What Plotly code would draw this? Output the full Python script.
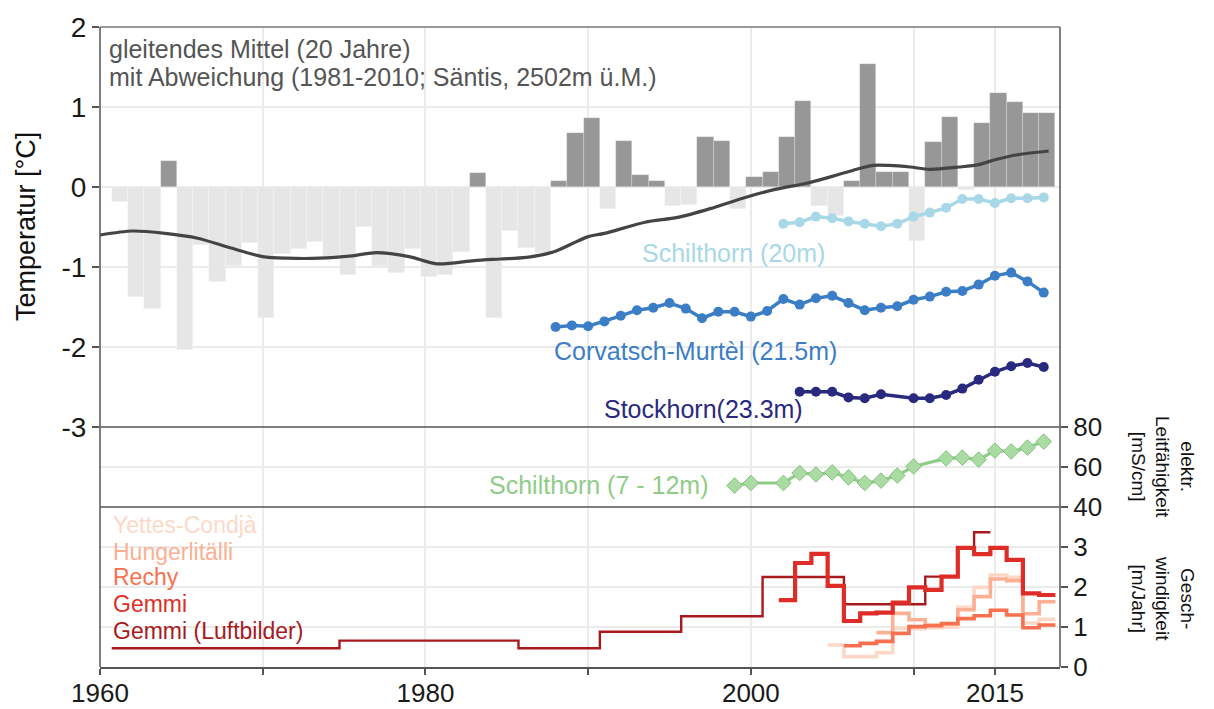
import plotly.graph_objects as go

# ---------------- data ----------------
# Annual temperature anomaly (Säntis), hydrological years
BAR_YEARS = list(range(1961, 2019))
BAR_VALUES = [-0.19, -1.38, -1.52, 0.32, -2.04, -0.72, -1.19, -0.99, -0.70, -1.64,
              -0.84, -0.78, -0.69, -0.87, -1.10, -0.50, -0.99, -1.08, -0.78, -1.12,
              -1.10, -0.81, 0.17, -1.64, -0.55, -0.76, -0.83, 0.08, 0.68, 0.86,
              -0.28, 0.58, 0.15, 0.08, -0.24, -0.23, 0.62, 0.57, -0.28, 0.13,
              0.19, 0.63, 1.08, -0.24, -0.36, 0.07, 1.54, 0.19, 0.19, -0.67,
              0.56, 0.88, -0.04, 0.80, 1.17, 1.06, 0.93, 0.93]

# 20-year moving average
SMOOTH_YEARS = [1960, 1962, 1964, 1966, 1968, 1970, 1971.5, 1973.5, 1975.5, 1977, 1979,
                1980.7, 1983, 1984.6, 1986.2, 1987.9, 1989, 1990, 1991, 1993.5, 1995.5,
                1997.5, 1999.5, 2001.5, 2003.5, 2005.3, 2006.3, 2007.5, 2008.5, 2009.8,
                2011, 2012.8, 2014, 2015, 2016.3, 2018.3]
SMOOTH_VALUES = [-0.60, -0.55, -0.58, -0.64, -0.76, -0.87, -0.89, -0.89, -0.86, -0.82, -0.87,
                 -0.96, -0.92, -0.90, -0.88, -0.81, -0.71, -0.62, -0.58, -0.44, -0.38,
                 -0.27, -0.14, -0.03, 0.05, 0.15, 0.21, 0.27, 0.27, 0.25,
                 0.22, 0.25, 0.28, 0.34, 0.40, 0.45]

# Borehole temperatures
SCHILT20_YEARS = list(range(2002, 2019))
SCHILT20_VALUES = [-0.46, -0.44, -0.37, -0.39, -0.43, -0.46, -0.49, -0.46, -0.37, -0.32,
                   -0.26, -0.15, -0.15, -0.20, -0.14, -0.14, -0.13]

CORV_YEARS = list(range(1988, 2019))
CORV_VALUES = [-1.75, -1.73, -1.74, -1.68, -1.61, -1.54, -1.51, -1.45, -1.52, -1.64,
               -1.56, -1.56, -1.62, -1.55, -1.40, -1.47, -1.39, -1.36, -1.45, -1.54,
               -1.51, -1.49, -1.41, -1.37, -1.31, -1.30, -1.22, -1.11, -1.07, -1.18, -1.32]

STOCK_YEARS = [2003, 2004, 2005, 2006, 2007, 2008, 2010, 2011, 2012, 2013, 2014, 2015, 2016, 2017, 2018]
STOCK_VALUES = [-2.56, -2.56, -2.56, -2.63, -2.64, -2.59, -2.64, -2.64, -2.60, -2.52,
                -2.41, -2.31, -2.24, -2.20, -2.25]

# Electrical conductivity Schilthorn (7-12 m)
COND_YEARS = [1999, 2000, 2002, 2003, 2004, 2005, 2006, 2007, 2008, 2009, 2010,
              2012, 2013, 2014, 2015, 2016, 2017, 2018]
COND_VALUES = [50.7, 52.0, 52.0, 57.0, 56.3, 57.3, 54.8, 52.0, 53.2, 55.7, 60.3,
               64.3, 64.7, 63.7, 68.2, 67.8, 69.7, 72.7]

# Rock glacier velocities (interval start years, values in m/year)
LUFT_STARTS = [1960, 1974, 1985, 1990, 1995, 2000, 2005, 2010, 2011, 2012, 2013]
LUFT_END = 2014
LUFT_VALUES = [0.47, 0.66, 0.47, 0.88, 1.27, 2.25, 1.57, 2.26, 2.26, 2.98, 3.37]

GEMMI_STARTS = list(range(2001, 2018))
GEMMI_END = 2018
GEMMI_VALUES = [1.67, 2.60, 2.83, 2.03, 1.15, 1.34, 1.36, 1.61, 1.99, 1.93,
                2.26, 2.98, 2.82, 2.98, 2.68, 1.84, 1.80]

RECHY_STARTS = list(range(2005, 2018))
RECHY_END = 2018
RECHY_VALUES = [0.53, 0.59, 0.64, 0.84, 1.01, 1.03, 1.08, 1.21, 1.28, 1.42, 1.30, 0.98, 1.05]

HUNGER_STARTS = list(range(2007, 2018))
HUNGER_END = 2018
HUNGER_VALUES = [0.86, 1.34, 1.18, 1.05, 1.09, 1.43, 1.76, 2.20, 2.16, 1.33, 1.63]

YETTES_STARTS = list(range(2004, 2018))
YETTES_END = 2018
YETTES_VALUES = [0.55, 0.26, 0.26, 0.36, 0.97, 0.96, 0.98, 1.00, 1.49, 1.99, 2.30, 2.24, 1.10, 1.19]

X_TICKS = [1960, 1970, 1980, 1990, 2000, 2010, 2015]
X_TICK_TEXT = ["1960", "", "1980", "", "2000", "", "2015"]
Y_TICKS = [2, 1, 0, -1, -2, -3]
Y_TICK_TEXT = ["2", "1", "0", "-1", "-2", "-3"]

# ---------------- styling ----------------
HYDRO_END = 0.72          # hydrological year ends ~ end of September
BAR_CENTER = HYDRO_END - 0.5
FONT = "Arial, Liberation Sans, sans-serif"

C_POS = "#979797"
C_NEG = "#e6e6e6"
C_SMOOTH = "#444444"
C_SCH20 = "#a8d8e8"
C_CORV = "#3b7ec6"
C_STOCK = "#29297f"
C_COND = "#8fcc88"
C_COND_FILL = "#a9dba2"
C_YET = "#fdd8c6"
C_HUN = "#fbb093"
C_REC = "#f8704f"
C_GEM = "#de2d26"
C_LUF = "#a8191e"
GRID = "#ebebeb"
AXIS = "#555555"

fig = go.Figure()

# bars
fig.add_trace(go.Bar(
    x=[y + BAR_CENTER for y in BAR_YEARS], y=BAR_VALUES, width=1.0,
    marker=dict(color=[C_POS if v >= 0 else C_NEG for v in BAR_VALUES],
                line=dict(color="rgba(255,255,255,0.35)", width=0.6)),
    yaxis="y", showlegend=False, hoverinfo="skip"))

fig.add_trace(go.Scatter(x=SMOOTH_YEARS, y=SMOOTH_VALUES, mode="lines",
                         line=dict(color=C_SMOOTH, width=3.2, shape="spline", smoothing=0.8),
                         yaxis="y", showlegend=False))

fig.add_trace(go.Scatter(x=SCHILT20_YEARS, y=SCHILT20_VALUES, mode="lines+markers",
                         line=dict(color=C_SCH20, width=3.5), marker=dict(size=10, color=C_SCH20),
                         yaxis="y", showlegend=False))
fig.add_trace(go.Scatter(x=CORV_YEARS, y=CORV_VALUES, mode="lines+markers",
                         line=dict(color=C_CORV, width=3.5), marker=dict(size=10, color=C_CORV),
                         yaxis="y", showlegend=False))
fig.add_trace(go.Scatter(x=STOCK_YEARS, y=STOCK_VALUES, mode="lines+markers",
                         line=dict(color=C_STOCK, width=3.5), marker=dict(size=10, color=C_STOCK),
                         yaxis="y", showlegend=False))

fig.add_trace(go.Scatter(x=COND_YEARS, y=COND_VALUES, mode="lines+markers",
                         line=dict(color=C_COND, width=3.2),
                         marker=dict(symbol="diamond", size=12, color=C_COND_FILL,
                                     line=dict(color="#86c07f", width=1)),
                         yaxis="y2", showlegend=False))


def steps(starts, end, vals):
    xs = [s + HYDRO_END for s in starts] + [end + HYDRO_END]
    ys = list(vals) + [vals[-1]]
    return xs, ys


for starts, end, vals, col, w in [
    (YETTES_STARTS, YETTES_END, YETTES_VALUES, C_YET, 3.6),
    (HUNGER_STARTS, HUNGER_END, HUNGER_VALUES, C_HUN, 3.6),
    (RECHY_STARTS, RECHY_END, RECHY_VALUES, C_REC, 3.6),
    (LUFT_STARTS, LUFT_END, LUFT_VALUES, C_LUF, 2.4),
    (GEMMI_STARTS, GEMMI_END, GEMMI_VALUES, C_GEM, 4.2),
]:
    xs, ys = steps(starts, end, vals)
    fig.add_trace(go.Scatter(x=xs, y=ys, mode="lines",
                             line=dict(color=col, width=w, shape="hv"),
                             yaxis="y3", showlegend=False))

# ---------------- annotations ----------------
ann = []
ann.append(dict(x=1960.45, y=1.73, xref="x", yref="y", text="gleitendes Mittel (20 Jahre)",
                showarrow=False, xanchor="left", yanchor="middle",
                font=dict(size=25, color="#555555", family=FONT)))
ann.append(dict(x=1960.45, y=1.38, xref="x", yref="y",
                text="mit Abweichung (1981-2010; Säntis, 2502m ü.M.)",
                showarrow=False, xanchor="left", yanchor="middle",
                font=dict(size=25, color="#555555", family=FONT)))

ann.append(dict(x=1993.2, y=-0.82, xref="x", yref="y", text="Schilthorn (20m)",
                showarrow=False, xanchor="left", font=dict(size=25, color=C_SCH20, family=FONT)))
ann.append(dict(x=1987.8, y=-2.05, xref="x", yref="y", text="Corvatsch-Murtèl (21.5m)",
                showarrow=False, xanchor="left", font=dict(size=25, color=C_CORV, family=FONT)))
ann.append(dict(x=1990.85, y=-2.78, xref="x", yref="y", text="Stockhorn(23.3m)",
                showarrow=False, xanchor="left", font=dict(size=25, color=C_STOCK, family=FONT)))
ann.append(dict(x=1983.8, y=51, xref="x", yref="y2", text="Schilthorn (7 - 12m)",
                showarrow=False, xanchor="left", font=dict(size=25, color=C_COND, family=FONT)))

for label, yv, col in [("Yettes-Condjà", 3.55, C_YET), ("Hungerlitälli", 2.88, C_HUN),
                       ("Rechy", 2.26, C_REC), ("Gemmi", 1.57, C_GEM),
                       ("Gemmi (Luftbilder)", 0.91, C_LUF)]:
    ann.append(dict(x=1960.72, y=yv, xref="x", yref="y3", text=label, showarrow=False,
                    xanchor="left", yanchor="middle", borderpad=0,
                    font=dict(size=23, color=col, family=FONT)))

ann.append(dict(x=0, y=(667 - 227) / 640, xref="paper", yref="paper", xshift=-74,
                xanchor="center", yanchor="middle",
                text="Temperatur [°C]", textangle=-90, showarrow=False,
                font=dict(size=27, color="#111111", family=FONT)))
ann.append(dict(x=1, y=(667 - 467) / 640, xref="paper", yref="paper", xshift=103,
                xanchor="center", yanchor="middle",
                text="elektr.<br>Leitfähigkeit<br>[mS/cm]", textangle=90, showarrow=False,
                font=dict(size=19, color="#111111", family=FONT)))
ann.append(dict(x=1, y=(667 - 598) / 640, xref="paper", yref="paper", xshift=103,
                xanchor="center", yanchor="middle",
                text="Gesch-<br>windigkeit<br>[m/Jahr]", textangle=90, showarrow=False,
                font=dict(size=19, color="#111111", family=FONT)))

# ---------------- frame lines ----------------
shapes = []
line_style = dict(color=AXIS, width=1.5)
shapes.append(dict(type="line", xref="paper", yref="paper", x0=0, x1=0, y0=0, y1=1, line=line_style))
shapes.append(dict(type="line", xref="paper", yref="paper", x0=1, x1=1, y0=0, y1=1, line=line_style))
shapes.append(dict(type="line", xref="paper", yref="paper", x0=0, x1=1, y0=1, y1=1,
                   line=dict(color="#777777", width=1.5)))
shapes.append(dict(type="line", xref="paper", yref="paper", x0=0, x1=1, y0=0.375, y1=0.375, line=line_style))
shapes.append(dict(type="line", xref="paper", yref="paper", x0=0, x1=1, y0=0.25, y1=0.25, line=line_style))

tickfont = dict(size=28, color="#1a1a1a", family=FONT)

fig.update_layout(
    width=1214, height=709, autosize=False,
    margin=dict(l=100, r=154, t=27, b=42, autoexpand=False),
    paper_bgcolor="white", plot_bgcolor="white",
    bargap=0, showlegend=False,
    font=dict(family=FONT),
    xaxis=dict(range=[1960, 2019], anchor="y3", tickmode="array", tickvals=X_TICKS,
               ticktext=X_TICK_TEXT, ticks="outside", ticklen=6, tickwidth=1.5,
               tickcolor=AXIS, showline=True, linecolor=AXIS, linewidth=1.5,
               showgrid=True, gridcolor=GRID, gridwidth=2, zeroline=False, automargin=False,
               ticklabelstandoff=-4,
               tickfont=dict(size=26, color="#1a1a1a", family=FONT)),
    yaxis=dict(domain=[0.375, 1], range=[-3, 2], tickmode="array", tickvals=Y_TICKS,
               ticktext=Y_TICK_TEXT,
               ticks="outside", ticklen=7, tickwidth=1.5, tickcolor=AXIS, automargin=False,
               showgrid=True, gridcolor=GRID, gridwidth=2, zeroline=False,
               showline=False, tickfont=tickfont),
    yaxis2=dict(domain=[0.25, 0.375], range=[40, 80], tickvals=[40, 60, 80], side="right",
                anchor="x", ticks="outside", ticklen=7, tickwidth=1.5, tickcolor=AXIS,
                showgrid=True, gridcolor=GRID, gridwidth=2, zeroline=False, automargin=False,
                showline=False, tickfont=dict(size=26, color="#1a1a1a", family=FONT)),
    yaxis3=dict(domain=[0, 0.25], range=[0, 4], tickvals=[0, 1, 2, 3, 4], ticktext=["0", "1", "2", "3", ""],
                side="right", anchor="x", ticks="outside", ticklen=7, tickwidth=1.5,
                tickcolor=AXIS, showgrid=True, gridcolor=GRID, gridwidth=2, automargin=False,
                zeroline=False, showline=False,
                tickfont=dict(size=26, color="#1a1a1a", family=FONT)),
    annotations=ann,
    shapes=shapes,
)

fig.write_html("out.html")
